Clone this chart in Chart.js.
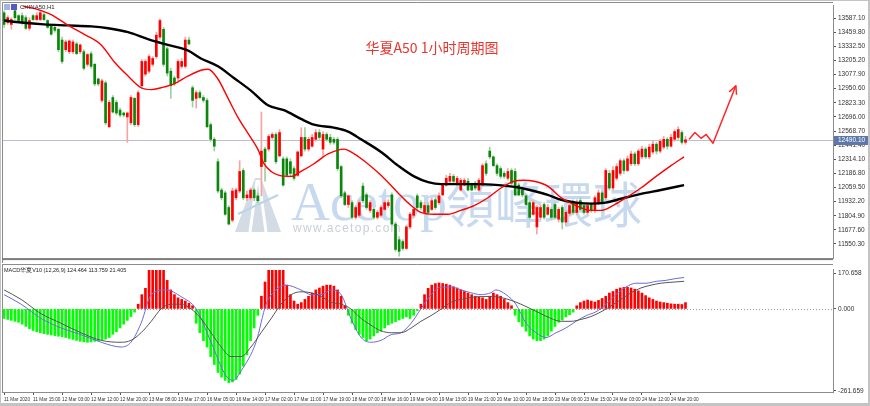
<!DOCTYPE html>
<html>
<head>
<meta charset="utf-8">
<script src="https://cdn.jsdelivr.net/npm/chart.js@4.4.1/dist/chart.umd.min.js"></script>
<style>
  html, body { margin: 0; padding: 0; background: #fff; }
  #wrap { position: relative; width: 870px; height: 406px; overflow: hidden; background: #fff; }
  #top { position: absolute; left: 0; top: 0; }
  #bot { position: absolute; left: 0; top: 264px; }
  .edge { position: absolute; background: #c4c4c4; }
</style>
</head>
<body>
<div id="wrap">
  <canvas id="top" width="870" height="264"></canvas>
  <canvas id="bot" width="870" height="142"></canvas>
  <div class="edge" style="left:0;top:0;width:870px;height:1px"></div>
  <div class="edge" style="left:0;top:0;width:1px;height:406px"></div>
  <div class="edge" style="left:868px;top:0;width:2px;height:406px"></div>
  <div class="edge" style="left:0;top:403px;width:870px;height:3px"></div>
</div>
<script>
// hourly candles, 11 Mar 2020 .. 24 Mar 20:00
const opens = [13635,13547,13530,13653,13609,13609,13591,13495,13609,13574,13574,13618,13565,13521,13504,13486,13389,13302,13284,13284,
  13354,13284,13284,13170,13266,13170,13038,12845,13003,12608,12871,12827,12757,12731,12696,12643,12863,12626,12977,13082,
  13108,13170,13240,13416,13486,13310,13108,13047,13047,13152,13152,13389,12959,12863,12915,12871,12845,12626,12494,12292,
  12037,12011,11879,11765,11967,12028,12213,11967,11967,12037,11984,12248,12406,12406,12511,12538,12345,12318,12318,12292,
  12230,12169,12345,12511,12406,12432,12494,12555,12406,12538,12511,12494,12494,12248,12011,11906,11923,11791,11809,12072,
  11993,11853,11862,11791,11809,11862,11897,11993,11730,11589,11572,11510,11704,11809,11984,11923,11835,11897,11862,11949,
  11923,11993,12081,12116,12160,12099,12037,12081,12116,12081,12099,12037,12081,12274,12388,12336,12257,12230,12187,12143,
  12213,12204,12081,12037,11984,11923,11818,11704,11791,11906,11818,11862,11906,11774,11879,11748,11826,11923,11835,11941,
  11897,11835,11906,11853,11923,12011,11967,12187,12055,12143,12187,12301,12213,12274,12362,12274,12336,12406,12336,12380,
  12450,12388,12424,12494,12432,12494,12511,12555,12467];
const highs = [13653,13609,13591,13679,13618,13635,13609,13591,13618,13635,13653,13635,13574,13530,13521,13495,13416,13389,13389,13389,
  13372,13354,13302,13266,13284,13179,13047,13038,13021,12845,12889,12845,12775,12740,12740,12889,12871,12933,13214,13214,
  13258,13240,13460,13580,13504,13328,13135,13065,13214,13223,13416,13416,12977,12933,12933,12889,12863,12643,12511,12318,
  12055,12028,11897,12055,12055,12301,12230,12028,12055,12055,12011,12740,12424,12538,12555,12555,12582,12336,12336,12318,
  12248,12388,12599,12599,12511,12538,12582,12582,12564,12555,12538,12511,12511,12257,12028,11993,11941,11897,11941,12099,
  12011,11941,11879,11853,11897,11941,11949,12011,11748,11616,11589,11721,11835,11879,12002,11941,11923,11923,11967,11967,
  12011,12099,12169,12187,12178,12160,12143,12143,12143,12099,12116,12143,12274,12301,12424,12345,12274,12248,12204,12230,
  12230,12230,12099,12055,11993,11941,11941,11897,11906,11923,11906,11879,11923,11879,11897,11853,11906,11949,11949,11967,
  11923,11923,11923,11984,12037,12028,12230,12213,12248,12274,12318,12318,12345,12388,12380,12406,12432,12424,12450,12476,
  12467,12494,12520,12511,12538,12582,12608,12573,12520];
const lows = [13504,13530,13486,13574,13547,13530,13486,13477,13565,13565,13565,13565,13495,13433,13460,13284,13179,13284,13266,13266,
  13258,13266,13120,13152,13135,12977,12977,12827,12626,12599,12731,12713,12696,12696,12467,12626,12610,12608,12950,13065,
  13091,13152,13223,13398,13152,13065,12863,12977,13021,13135,13135,13345,12784,12775,12863,12827,12599,12476,12388,12011,
  11949,11809,11721,11748,11949,12011,11949,11941,11949,11941,11923,11984,12116,12388,12494,12274,12336,12072,12160,12160,
  12125,12160,12336,12388,12388,12424,12476,12494,12336,12476,12450,12450,12213,11967,11897,11879,11774,11774,11791,11923,
  11862,11835,11774,11774,11791,11853,11879,11721,11484,11440,11493,11501,11686,11791,11862,11862,11818,11818,11853,11862,
  11906,11984,12072,12099,12099,12081,12028,12072,12028,12028,12037,12028,12072,12169,12318,12248,12169,12143,12143,12125,
  12081,11984,11984,11975,11897,11774,11809,11642,11774,11774,11809,11774,11774,11748,11686,11721,11809,11818,11818,11853,
  11818,11818,11835,11835,11906,11906,11949,12037,12037,12125,12169,12187,12204,12257,12257,12257,12318,12318,12318,12362,
  12362,12371,12406,12406,12424,12476,12494,12450,12450];
const closes = [13530,13591,13574,13591,13565,13547,13495,13565,13574,13609,13635,13574,13504,13442,13477,13302,13196,13372,13381,13372,
  13266,13345,13135,13258,13152,12994,12994,13021,12643,12827,12740,12731,12713,12713,12731,12871,12626,12915,13196,13196,
  13240,13223,13433,13565,13170,13091,12977,12994,13196,13196,13389,13354,12845,12915,12871,12845,12608,12494,12432,12028,
  11967,11818,11730,12028,12037,12204,11967,11993,12037,11967,11941,12388,12292,12520,12538,12292,12555,12081,12169,12187,
  12143,12380,12511,12406,12494,12511,12555,12511,12538,12494,12467,12467,12230,11984,11906,11984,11791,11879,11923,11941,
  11879,11923,11791,11835,11879,11923,11923,11730,11501,11484,11510,11704,11818,11862,11879,11879,11897,11835,11941,11879,
  11984,12081,12143,12160,12116,12143,12125,12125,12037,12037,12055,12125,12257,12187,12336,12257,12187,12160,12160,12204,
  12099,11993,11993,11993,11906,11791,11923,11879,11879,11791,11879,11791,11791,11862,11748,11835,11897,11835,11923,11862,
  11835,11897,11853,11967,12011,11923,12213,12055,12213,12248,12301,12213,12318,12362,12274,12388,12406,12336,12424,12450,
  12388,12476,12494,12432,12511,12564,12582,12467,12490.1];

// moving averages: [bar index, price]
const maRed = [[2.5,13760],[4.7,13705],[8.8,13670],[13,13618],[17.7,13521],[22,13442],[26.8,13345],[30.3,13196],[34.2,13065],[37.8,12959],
  [40.6,12942],[43.3,12959],[46.9,12994],[50.8,13065],[54.3,13117],[56.3,13126],[59,13038],[61.8,12863],[64.6,12687],[67.3,12547],
  [70,12406],[71.7,12274],[73.7,12204],[75.9,12169],[79.2,12160],[81.9,12204],[85.5,12274],[89.4,12362],[93.8,12406],[95.7,12380],
  [99.3,12301],[104,12169],[108.7,12011],[111.4,11923],[115,11835],[118.6,11818],[122.5,11818],[126,11853],[129.7,11897],[133.5,11967],
  [137.1,12055],[140.7,12116],[143.4,12125],[146.2,12116],[150,12072],[153.7,11967],[157.8,11897],[161.9,11853],[164.7,11853],[168,11897],
  [171.6,11967],[175.7,12055],[179.9,12160],[184,12257],[187.6,12336]];
const maBlack = [[0,13565],[4.7,13547],[11,13530],[17.7,13521],[24,13512],[28.7,13495],[34.2,13460],[39.7,13398],[45.2,13345],[50.8,13293],
  [54.3,13223],[59,13152],[63.4,13047],[68.1,12933],[72.8,12801],[77.2,12757],[81.9,12678],[85.5,12626],[91,12599],[94.9,12564],
  [98.5,12494],[104,12380],[108.7,12257],[113.1,12160],[117,12108],[120.6,12090],[126,12090],[131.6,12090],[139,12072],[142.6,12055],
  [146.2,12028],[150,11993],[153.7,11949],[157.8,11923],[161.9,11914],[166,11923],[170.2,11958],[175.7,12002],[181.2,12037],[187.6,12081]];

// MACD panel
const macdHist = [-30,-33,-36,-39,-42,-48,-55,-62,-68,-72,-75,-78,-80,-82,-84,-86,-88,-90,-93,-96,
  -99,-102,-104,-105,-104,-102,-100,-98,-95,-90,-80,-72,-60,-48,-36,-24,-10,15,45,65,
  130,130,130,130,130,90,60,45,35,30,25,18,10,-45,-75,-100,-120,-150,-175,-200,
  -215,-225,-232,-230,-222,-205,-180,-145,-100,-60,-20,40,85,130,130,130,130,130,75,45,
  25,15,20,30,40,50,60,66,72,75,75,72,60,40,10,-20,-45,-65,-80,-90,
  -100,-95,-85,-75,-70,-60,-50,-45,-40,-35,-30,-25,-30,-20,-5,15,45,65,75,80,
  82,80,78,75,70,66,60,55,50,45,40,37,35,30,40,50,45,40,30,20,
  10,-20,-40,-55,-70,-85,-95,-100,-100,-95,-85,-70,-55,-42,-35,-25,-18,-10,10,20,
  25,28,25,22,27,33,40,50,55,62,66,68,68,66,62,57,50,42,35,30,
  25,22,20,18,16,15,15,14,20];
const macdGray = [[0,60],[4.7,30],[10.2,-15],[15.7,-45],[21.2,-75],[26.8,-99],[32.3,-105],[35,-99],[37.8,-75],[40.6,-39],
  [43.3,0],[46,15],[48.8,15],[51.6,0],[54.3,-30],[57.1,-75],[59.9,-120],[62.6,-150],[65.4,-150],[68.1,-120],
  [70.9,-75],[73.7,-30],[76.4,15],[79.2,45],[81.9,54],[84.7,51],[87.5,39],[90.2,21],[93,15],[95.7,0],
  [98.5,-30],[101.2,-51],[104,-69],[106.8,-75],[109.5,-75],[112.3,-60],[115,-39],[117.8,-21],[120.6,0],[123.3,21],
  [126.1,30],[128.8,36],[131.6,39],[134.3,39],[137.1,36],[139.9,27],[142.6,15],[145.4,0],[148.1,-15],[150.9,-30],
  [153.7,-39],[156.4,-39],[159.2,-33],[161.9,-24],[164.7,-9],[167.4,9],[170.2,30],[173,51],[175.7,66],[178.5,75],
  [181.2,81],[184,84],[187.6,87]];
const macdBlue = [[0,45],[4.7,15],[10.2,-30],[15.7,-60],[21.2,-81],[26.8,-105],[32.3,-120],[35,-105],[37.8,-45],[40.6,45],
  [44.7,60],[48.8,39],[53,0],[57.1,-105],[61.2,-210],[63.2,-225],[65.4,-195],[69.5,-105],[72.3,15],[75,60],
  [77.8,75],[81.9,60],[84.7,45],[87.4,45],[90.2,60],[93,45],[95.7,-30],[98.5,-90],[101.2,-105],[104,-99],
  [106.8,-81],[109.5,-75],[112.3,-45],[115,0],[117.8,45],[120.6,69],[123.3,69],[126.1,60],[128.8,51],[131.6,45],
  [134.3,51],[135.7,60],[138.5,45],[141.2,15],[144,-45],[146.8,-75],[149.5,-90],[152.3,-75],[155,-60],[157.8,-39],
  [160.6,-21],[163.3,-9],[166.1,15],[168.8,45],[171.6,69],[174.3,81],[177.1,81],[179.9,87],[182.6,90],[185.4,96],
  [187.6,99]];

// axes
const xLabels = ["11 Mar 2020","11 Mar 15:00","12 Mar 03:00","12 Mar 12:00","12 Mar 20:00","13 Mar 08:00","13 Mar 17:00",
  "16 Mar 05:00","16 Mar 14:00","17 Mar 02:00","17 Mar 11:00","17 Mar 19:00","18 Mar 07:00","18 Mar 16:00","19 Mar 04:00",
  "19 Mar 13:00","19 Mar 21:00","20 Mar 10:00","20 Mar 18:00","23 Mar 06:00","23 Mar 15:00","24 Mar 03:00","24 Mar 12:00","24 Mar 20:00"];
const barsPerLabel = 8;
const priceTicks = [13587.10,13459.80,13332.50,13205.20,13077.90,12950.60,12823.30,12696.00,12568.70,
  12441.40,12314.10,12186.80,12059.50,11932.20,11804.90,11677.60,11550.30];
const macdTicks = [-258, 0, 113];
const macdTickLabels = ["-261.659", "0.000", "170.658"];

// hand-drawn forecast arrow: [bar index, price]
const arrowPath = [[189,12494],[190.6,12555],[192.3,12503],[193.7,12538],[195.6,12459],[201.9,12977]];

const xMin = -0.3, xMax = 228.7;
const lastPrice = closes[closes.length - 1];
const tickFont = { family: "Liberation Sans", size: 6.5 };
const isUp = (i) => closes[i] >= opens[i];
const pts = (arr) => arr.map((p) => ({ x: p[0], y: p[1] }));

Chart.defaults.font.family = "Liberation Sans";

const priceDecor = {
  id: "priceDecor",
  beforeDatasetsDraw(chart) {
    const { ctx, chartArea: a, scales: { y } } = chart;
    ctx.save();
    // watermark logo
    ctx.fillStyle = "#d3dbe4";
    ctx.beginPath();
    ctx.moveTo(235, 232); ctx.lineTo(255, 178); ctx.lineTo(261, 178); ctx.lineTo(281, 232); ctx.closePath();
    ctx.fill();
    ctx.strokeStyle = "#fff"; ctx.lineWidth = 3;
    ctx.beginPath(); ctx.moveTo(250, 232); ctx.lineTo(257, 180); ctx.moveTo(266, 232); ctx.lineTo(259, 180); ctx.stroke();
    ctx.strokeStyle = "#bcd3ea"; ctx.lineWidth = 2;
    ctx.beginPath(); ctx.moveTo(238, 214); ctx.lineTo(278, 195); ctx.stroke();
    // watermark text
    ctx.fillStyle = "rgba(120,165,215,0.42)";
    ctx.textBaseline = "alphabetic";
    ctx.font = '54px "Liberation Serif"';
    ctx.fillText("Acetop", 291, 220);
    ctx.font = '49px "Noto Sans CJK TC"';
    ctx.fillText("領峰環球", 446, 223);
    ctx.fillStyle = "rgba(150,160,172,0.5)";
    ctx.font = '12px "Liberation Sans"';
    ctx.letterSpacing = "1.3px";
    ctx.fillText("www.acetop.com", 293, 232);
    ctx.letterSpacing = "0px";
    // current price line
    const py = Math.round(y.getPixelForValue(lastPrice)) + 0.5;
    ctx.strokeStyle = "#b9c0cc"; ctx.lineWidth = 1;
    ctx.beginPath(); ctx.moveTo(a.left, py); ctx.lineTo(a.right, py); ctx.stroke();
    ctx.restore();
  },
  afterDraw(chart) {
    const { ctx, chartArea: a, scales: { x, y } } = chart;
    ctx.save();
    // frame
    ctx.strokeStyle = "#8c8c8c"; ctx.lineWidth = 1;
    ctx.beginPath();
    ctx.moveTo(2.5, 263); ctx.lineTo(2.5, 2.5); ctx.lineTo(a.right, 2.5);
    ctx.stroke();
    ctx.fillStyle = "#7c7c7c";
    ctx.fillRect(2, a.bottom, a.right - 2, 2);
    // symbol label
    ctx.fillStyle = "#9fb7de"; ctx.fillRect(4, 4, 6, 6);
    ctx.fillStyle = "#5b57c8"; ctx.fillRect(11, 4, 6, 6);
    ctx.fillStyle = "#222"; ctx.font = '6px "Liberation Sans"'; ctx.textBaseline = "middle";
    ctx.fillText("CHINA50,H1", 20, 7.5);
    // title
    ctx.fillStyle = "#e8362e"; ctx.font = '14px "Noto Sans CJK SC"';
    ctx.textAlign = "center"; ctx.textBaseline = "middle";
    ctx.fillText("华夏A50 1小时周期图", 432, 48);
    // forecast arrow
    ctx.strokeStyle = "#ff2626"; ctx.lineWidth = 1.5; ctx.lineJoin = "round";
    ctx.beginPath();
    arrowPath.forEach((p, k) => {
      const px = x.getPixelForValue(p[0]), py = y.getPixelForValue(p[1]);
      if (k === 0) ctx.moveTo(px, py); else ctx.lineTo(px, py);
    });
    ctx.stroke();
    const n = arrowPath.length;
    const ex = x.getPixelForValue(arrowPath[n - 1][0]), ey = y.getPixelForValue(arrowPath[n - 1][1]);
    const sx = x.getPixelForValue(arrowPath[n - 2][0]), sy = y.getPixelForValue(arrowPath[n - 2][1]);
    const ang = Math.atan2(ey - sy, ex - sx);
    ctx.beginPath();
    ctx.moveTo(ex - 9 * Math.cos(ang - 0.45), ey - 9 * Math.sin(ang - 0.45));
    ctx.lineTo(ex, ey);
    ctx.lineTo(ex - 9 * Math.cos(ang + 0.45), ey - 9 * Math.sin(ang + 0.45));
    ctx.stroke();
    // current price box
    const py = Math.round(y.getPixelForValue(lastPrice));
    ctx.fillStyle = "#5d77aa";
    ctx.fillRect(a.right + 1, py - 4, 34, 9);
    ctx.fillStyle = "#fff"; ctx.font = '6.5px "Liberation Sans"';
    ctx.textAlign = "left"; ctx.textBaseline = "middle";
    ctx.fillText(lastPrice.toFixed(2), a.right + 5, py + 0.5);
    ctx.restore();
  },
};

new Chart(document.getElementById("top"), {
  type: "bar",
  data: {
    datasets: [
      { type: "line", data: pts(maRed), borderColor: "#ff0000", borderWidth: 1.4, pointRadius: 0,
        cubicInterpolationMode: "monotone", order: 0 },
      { type: "line", data: pts(maBlack), borderColor: "#000000", borderWidth: 2.4, pointRadius: 0,
        cubicInterpolationMode: "monotone", order: 0 },
      { data: opens.map((o, i) => ({ x: i, y: [o, closes[i]] })),
        backgroundColor: (ctx) => (isUp(ctx.dataIndex) ? "#ff0000" : "#0b860b"),
        barThickness: 2, minBarLength: 1, grouped: false, order: 1 },
      { data: lows.map((l, i) => ({ x: i, y: [l, highs[i]] })),
        backgroundColor: (ctx) => (isUp(ctx.dataIndex) ? "#f7a3a3" : "#9fd09f"),
        barThickness: 1, grouped: false, order: 2 },
    ],
  },
  options: {
    responsive: false,
    animation: false,
    devicePixelRatio: 1,
    layout: { padding: { left: 3, top: 3, right: 0, bottom: 2 } },
    plugins: { legend: { display: false }, tooltip: { enabled: false } },
    scales: {
      x: { type: "linear", min: xMin, max: xMax, offset: false, display: false, grid: { offset: false } },
      y: {
        position: "right", min: 11423, max: 13697, beginAtZero: false,
        afterFit: (axis) => { axis.width = 37; },
        afterBuildTicks: (axis) => { axis.ticks = priceTicks.map((v) => ({ value: v })); },
        ticks: { font: tickFont, color: "#333", padding: 2, callback: (v) => Number(v).toFixed(2) },
        grid: { drawOnChartArea: false, drawTicks: true, tickLength: 3, color: "#555" },
        border: { display: true, color: "#8c8c8c" },
      },
    },
  },
  plugins: [priceDecor],
});

const macdDecor = {
  id: "macdDecor",
  beforeDatasetsDraw(chart) {
    const { ctx, chartArea: a, scales: { y } } = chart;
    ctx.save();
    const zy = Math.round(y.getPixelForValue(0)) + 0.5;
    ctx.strokeStyle = "#9a9a9a"; ctx.lineWidth = 1; ctx.setLineDash([1, 2]);
    ctx.beginPath(); ctx.moveTo(a.left, zy); ctx.lineTo(a.right, zy); ctx.stroke();
    ctx.restore();
  },
  afterDraw(chart) {
    const { ctx, chartArea: a } = chart;
    ctx.save();
    ctx.strokeStyle = "#8c8c8c"; ctx.lineWidth = 1;
    ctx.beginPath();
    ctx.moveTo(2.5, a.bottom + 0.5); ctx.lineTo(2.5, 0); ctx.moveTo(2, 0.5); ctx.lineTo(a.right, 0.5);
    ctx.moveTo(2, a.bottom + 0.5); ctx.lineTo(a.right, a.bottom + 0.5);
    ctx.stroke();
    ctx.fillStyle = "#222"; ctx.font = '5.5px "Liberation Sans"'; ctx.textBaseline = "middle";
    ctx.fillText("MACD华夏V10 (12,26,9) 124.464 113.759 21.405", 4, 6);
    ctx.restore();
  },
};

new Chart(document.getElementById("bot"), {
  type: "bar",
  data: {
    datasets: [
      { type: "line", data: pts(macdGray), borderColor: "#555555", borderWidth: 1, pointRadius: 0,
        cubicInterpolationMode: "monotone", order: 0 },
      { type: "line", data: pts(macdBlue), borderColor: "#6a6ad8", borderWidth: 1, pointRadius: 0,
        cubicInterpolationMode: "monotone", order: 0 },
      { data: macdHist.map((v, i) => ({ x: i, y: v })),
        backgroundColor: (ctx) => (macdHist[ctx.dataIndex] >= 0 ? "#ff0000" : "#00ff00"),
        barThickness: 2, grouped: false, order: 1 },
    ],
  },
  options: {
    responsive: false,
    animation: false,
    devicePixelRatio: 1,
    layout: { padding: { left: 3, top: 1, right: 0, bottom: 0 } },
    plugins: { legend: { display: false }, tooltip: { enabled: false } },
    scales: {
      x: {
        type: "linear", min: xMin, max: xMax, offset: false,
        afterFit: (axis) => { axis.height = 14; },
        afterBuildTicks: (axis) => { axis.ticks = xLabels.map((s, k) => ({ value: k * barsPerLabel })); },
        ticks: { font: { family: "Liberation Sans", size: 4.7 }, color: "#333", align: "start", autoSkip: false,
          maxRotation: 0, padding: 2, callback: (v, idx) => xLabels[idx] },
        grid: { drawOnChartArea: false, drawTicks: true, tickLength: 3, color: "#555", offset: false },
        border: { display: true, color: "#8c8c8c" },
      },
      y: {
        position: "right", min: -261.659, max: 123, beginAtZero: false,
        afterFit: (axis) => { axis.width = 37; },
        afterBuildTicks: (axis) => { axis.ticks = macdTicks.map((v) => ({ value: v })); },
        ticks: { font: tickFont, color: "#333", padding: 2, callback: (v, idx) => macdTickLabels[idx] },
        grid: { drawOnChartArea: false, drawTicks: true, tickLength: 3, color: "#555" },
        border: { display: true, color: "#8c8c8c" },
      },
    },
  },
  plugins: [macdDecor],
});
</script>
</body>
</html>
